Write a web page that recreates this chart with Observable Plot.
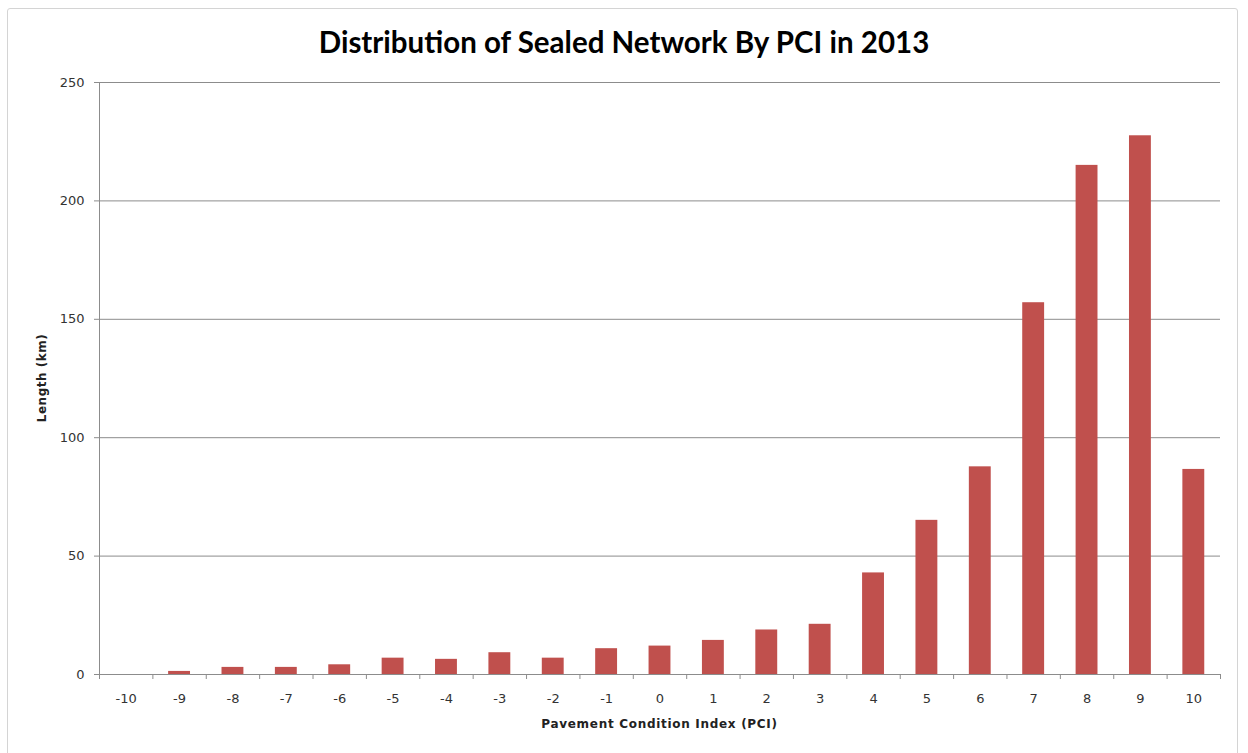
<!DOCTYPE html>
<html>
<head>
<meta charset="utf-8">
<script src="https://cdn.jsdelivr.net/npm/d3@7"></script>
<script src="https://cdn.jsdelivr.net/npm/@observablehq/plot@0.6"></script>
<style>
  html, body { margin: 0; padding: 0; background: #fff; }
  #chart { position: relative; width: 1248px; height: 753px; overflow: hidden; }
  #frame { position: absolute; left: 7px; top: 8px; width: 1231px; height: 760px;
           border: 1px solid #d4d4d4; border-radius: 3px; box-sizing: border-box; }
  #chart svg { position: absolute; left: 0; top: 0; }
  .title { position: absolute; left: 0; width: 1248px; text-align: center; top: 27px;
           font-family: Lato, sans-serif; font-weight: 700; font-size: 29.5px; line-height: 30px; color: #000; }
  .xtitle { position: absolute; left: 99px; width: 1121px; text-align: center; top: 718px;
            font-family: "DejaVu Sans", sans-serif; font-weight: bold; font-size: 12px; line-height: 12px;
            letter-spacing: 0.7px; color: #222; }
  .ytitle { position: absolute; left: 42px; top: 378px; transform: translate(-50%, -50%) rotate(-90deg);
            white-space: nowrap; font-family: "DejaVu Sans", sans-serif; font-weight: bold; font-size: 12px;
            letter-spacing: 0.5px; color: #222; }
</style>
</head>
<body>
<div id="chart">
  <div id="frame"></div>
  <div class="title">Distribution of Sealed Network By PCI in 2013</div>
  <div class="ytitle">Length (km)</div>
  <div class="xtitle">Pavement Condition Index (PCI)</div>
</div>
<script>
// Pavement Condition Index categories and sealed-network length (km) in each
const pci = [-10, -9, -8, -7, -6, -5, -4, -3, -2, -1, 0, 1, 2, 3, 4, 5, 6, 7, 8, 9, 10];
const lengthKm = [0, 1.3, 3, 3, 4.1, 6.9, 6.4, 9.2, 6.9, 10.9, 12, 14.4, 18.8, 21.2, 42.9, 65.1, 87.7, 157, 215, 227.5, 86.6];
const yTicks = [0, 50, 100, 150, 200, 250];

const data = pci.map((p, i) => ({pci: p, km: lengthKm[i]}));

const W = 1248, H = 753;
const margin = {top: 82, right: 28, bottom: 79, left: 99};
const step = (W - margin.left - margin.right) / pci.length;
const gridColor = "#8c8c8c";
const textColor = "#333";

const chart = Plot.plot({
  width: W,
  height: H,
  marginTop: margin.top,
  marginRight: margin.right,
  marginBottom: margin.bottom,
  marginLeft: margin.left,
  style: {fontFamily: "DejaVu Sans, sans-serif", fontSize: "13px", background: "transparent", overflow: "visible"},
  x: {type: "band", domain: pci, paddingInner: 0.59, paddingOuter: 0.295, round: false, axis: null},
  y: {domain: [0, 250], axis: null},
  marks: [
    // horizontal gridlines (the 0 line doubles as the category axis)
    Plot.ruleY(yTicks, {stroke: gridColor, strokeWidth: 1}),
    // value axis line on the left edge of the plot area
    Plot.ruleX([pci[0]], {dx: -step / 2, stroke: gridColor}),
    // category tick marks between bars
    Plot.ruleX(pci, {x: d => d, dx: -step / 2, y1: 0, y2: 0, insetBottom: -5, stroke: gridColor}),
    Plot.ruleX([pci[pci.length - 1]], {dx: step / 2, y1: 0, y2: 0, insetBottom: -5, stroke: gridColor}),
    Plot.barY(data, {x: "pci", y: "km", fill: "#C0504D"}),
    Plot.axisY({ticks: yTicks, tickSize: 5, tickPadding: 10, label: null, stroke: gridColor, fill: textColor, fontSize: 13}),
    Plot.axisX({tickSize: 0, tickPadding: 19, label: null, fill: textColor, fontSize: 13})
  ]
});

document.getElementById("chart").appendChild(chart);
</script>
</body>
</html>
